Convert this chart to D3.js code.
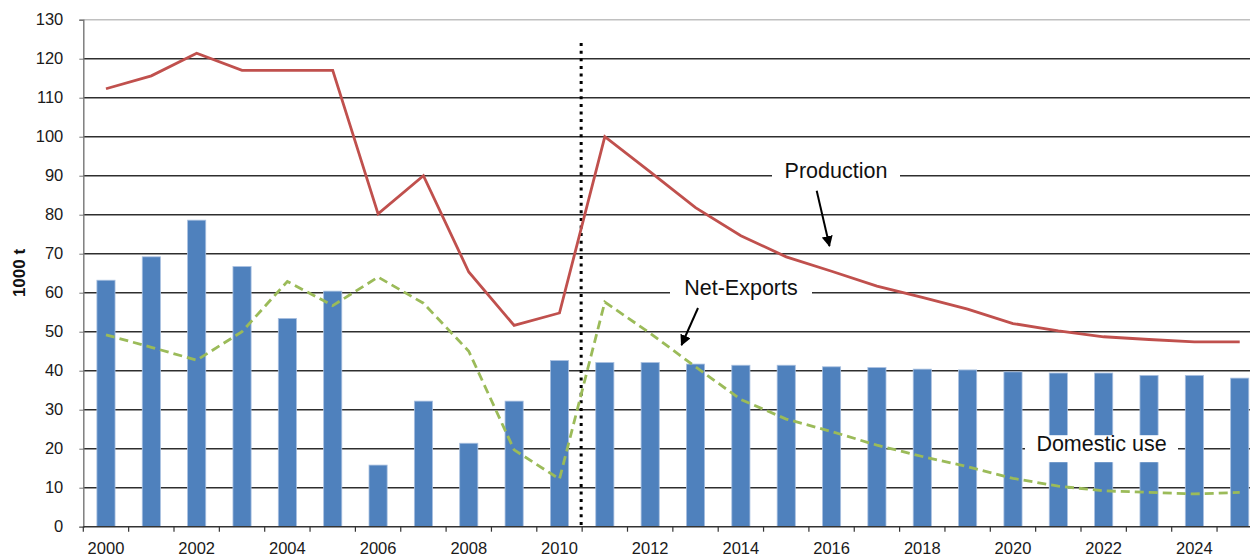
<!DOCTYPE html>
<html>
<head>
<meta charset="utf-8">
<script src="https://cdn.jsdelivr.net/npm/d3@7"></script>
<style>
  html, body { margin: 0; padding: 0; background: #fff; }
  svg { display: block; font-family: "Liberation Sans", Arial, sans-serif; }
</style>
</head>
<body>
<svg id="chart" width="1250" height="556"></svg>
<script>
// ---- Data ----
const years = d3.range(2000, 2026).map(String);
const domesticUse = [63.2, 69.2, 78.6, 66.7, 53.4, 60.4, 15.8, 32.2, 21.4, 32.2, 42.6,
  42.1, 42.1, 41.7, 41.4, 41.4, 41.0, 40.8, 40.4, 40.2, 39.7, 39.4, 39.4, 38.8, 38.8, 38.1];
const production = [112.3, 115.6, 121.4, 117.0, 117.0, 117.0, 80.2, 90.0, 65.3, 51.6, 54.8,
  100.0, 91.0, 81.8, 74.6, 69.2, 65.5, 61.7, 58.8, 55.8, 52.1, 50.2, 48.7, 48.0, 47.4, 47.4];
const netExports = [49.2, 46.0, 42.7, 50.0, 62.9, 56.7, 64.0, 57.3, 45.0, 19.7, 12.2,
  57.6, 49.6, 41.0, 32.6, 27.6, 24.4, 20.9, 18.0, 15.4, 12.4, 10.4, 9.2, 8.8, 8.4, 8.8];
const yTicks = [0, 10, 20, 30, 40, 50, 60, 70, 80, 90, 100, 110, 120, 130];
const xLabels = years.filter((d, i) => i % 2 === 0);
const forecastStart = "2011";
const yTitle = "1000 t";
const annotations = [
  { label: "Production", value: 90 },
  { label: "Net-Exports", value: 60 },
  { label: "Domestic use", value: 20 }
];

// ---- Layout ----
const svg = d3.select("#chart");
const mLeft = 83.3, mRight = 1262.4, mTop = 19.7, mBottom = 526.7;

const x = d3.scaleBand().domain(years).range([mLeft, mRight]).padding(0);
const xBar = d3.scaleBand().domain(years).range([mLeft, mRight]).paddingInner(0.6).paddingOuter(0.3);
const y = d3.scaleLinear().domain([0, 130]).range([mBottom, mTop]);
const cx = d => x(d) + x.bandwidth() / 2;

// gridlines
svg.append("g").selectAll("line").data(yTicks.filter(t => t > 0)).join("line")
  .attr("x1", mLeft).attr("x2", 1250)
  .attr("y1", d => y(d)).attr("y2", d => y(d))
  .attr("stroke", d => d === 130 ? "#c0c0c0" : "#2e2e2e")
  .attr("stroke-width", d => d === 130 ? 1.5 : 1.4);

// y axis
const yAxis = d3.axisLeft(y).tickValues(yTicks).tickSize(4).tickPadding(16);
const gy = svg.append("g").attr("transform", `translate(${mLeft},0)`).call(yAxis);
gy.select(".domain").attr("stroke", "#777").attr("stroke-width", 1.4);
gy.selectAll(".tick line").attr("stroke", "#777");
gy.selectAll(".tick text").attr("font-size", 16.5).attr("fill", "#1a1a1a")
  .attr("font-family", "Liberation Sans, Arial, sans-serif");

// y title
svg.append("text")
  .attr("transform", `translate(25,273) rotate(-90)`)
  .attr("text-anchor", "middle")
  .attr("font-size", 17).attr("font-weight", "bold").attr("fill", "#111")
  .text(yTitle);

// bars
svg.append("g").selectAll("rect").data(years).join("rect")
  .attr("x", d => xBar(d))
  .attr("width", xBar.bandwidth())
  .attr("y", (d, i) => y(domesticUse[i]))
  .attr("height", (d, i) => y(0) - y(domesticUse[i]))
  .attr("fill", "#4f81bd")
  .attr("stroke", "#a9c0e0").attr("stroke-width", 0.8);

// x axis
const xAxis = d3.axisBottom(x).tickValues(xLabels).tickSize(0).tickPadding(16);
const gx = svg.append("g").attr("transform", `translate(0,${mBottom})`).call(xAxis);
gx.select(".domain").remove();
gx.selectAll(".tick text").attr("font-size", 16.5).attr("fill", "#1a1a1a")
  .attr("font-family", "Liberation Sans, Arial, sans-serif");
svg.append("line").attr("x1", mLeft).attr("x2", 1250).attr("y1", mBottom).attr("y2", mBottom)
  .attr("stroke", "#333").attr("stroke-width", 1.5);
svg.append("g").selectAll("line").data(years).join("line")
  .attr("x1", d => x(d)).attr("x2", d => x(d))
  .attr("y1", mBottom).attr("y2", mBottom + 5)
  .attr("stroke", "#333").attr("stroke-width", 1.2);

// forecast divider
svg.append("line")
  .attr("x1", x(forecastStart) - 1).attr("x2", x(forecastStart) - 1)
  .attr("y1", y(124)).attr("y2", mBottom)
  .attr("stroke", "#000").attr("stroke-width", 3)
  .attr("stroke-dasharray", "3,4.6");

// lines
const line = vals => d3.line().x((d, i) => cx(years[i])).y(d => y(d))(vals);
svg.append("path").attr("d", line(netExports))
  .attr("fill", "none").attr("stroke", "#9bbb59").attr("stroke-width", 2.8)
  .attr("stroke-dasharray", "9,5");
svg.append("path").attr("d", line(production))
  .attr("fill", "none").attr("stroke", "#c0504d").attr("stroke-width", 2.8);

// annotations
const boxes = [
  { x0: 772, x1: 900, h: 24 },
  { x0: 670, x1: 812, h: 24 },
  { x0: 1025, x1: 1178, h: 27 }
];
annotations.forEach((a, i) => {
  const b = boxes[i];
  const yy = y(a.value);
  svg.append("rect").attr("x", b.x0).attr("width", b.x1 - b.x0)
    .attr("y", yy - b.h / 2).attr("height", b.h).attr("fill", "#fff");
  svg.append("text").attr("x", (b.x0 + b.x1) / 2).attr("y", yy - 3)
    .attr("text-anchor", "middle").attr("dominant-baseline", "middle")
    .attr("font-size", 21.5).attr("fill", "#111").text(a.label);
});

// arrows
const defs = svg.append("defs");
defs.append("marker").attr("id", "arr").attr("viewBox", "0 0 10 10")
  .attr("refX", 9).attr("refY", 5).attr("markerWidth", 5.5).attr("markerHeight", 5.5)
  .attr("orient", "auto")
  .append("path").attr("d", "M0,0 L10,5 L0,10 z").attr("fill", "#000");
const arrows = [
  { x1: 816.7, y1: 190.7, x2: 829.5, y2: 246 },
  { x1: 698, y1: 308, x2: 681.5, y2: 345 }
];
svg.append("g").selectAll("line").data(arrows).join("line")
  .attr("x1", d => d.x1).attr("y1", d => d.y1).attr("x2", d => d.x2).attr("y2", d => d.y2)
  .attr("stroke", "#000").attr("stroke-width", 2).attr("marker-end", "url(#arr)");
</script>
</body>
</html>
